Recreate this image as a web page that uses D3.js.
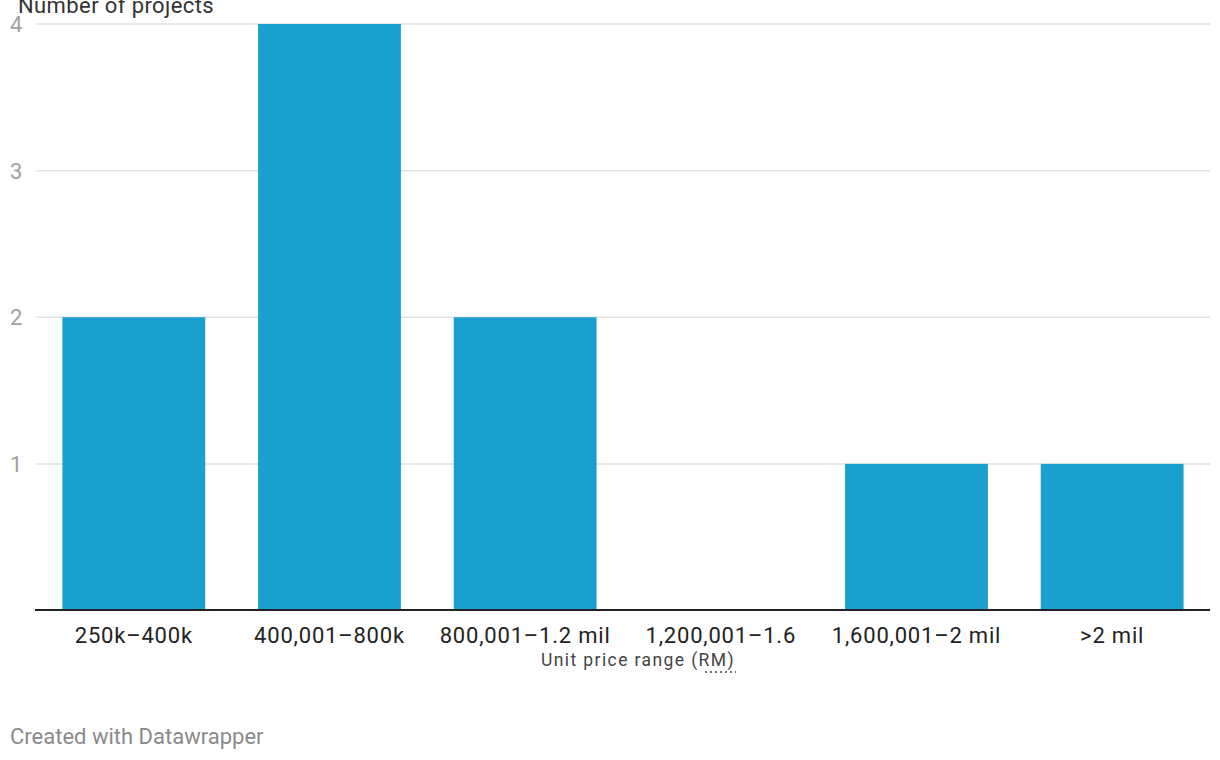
<!DOCTYPE html>
<html><head><meta charset="utf-8">
<script src="https://cdn.jsdelivr.net/npm/d3@7"></script>
<style>
body{margin:0;background:#fff;font-family:Roboto,"Noto Sans",sans-serif;}
</style></head>
<body><svg id="c" width="1220" height="760"></svg>
<script>
const categories = ["250k–400k","400,001–800k","800,001–1.2 mil","1,200,001–1.6","1,600,001–2 mil",">2 mil"];
const values = [2,4,2,0,1,1];
const yTicks = [1,2,3,4];

const svg = d3.select("#c");
const x = d3.scaleBand().domain(categories).range([36,1210]).paddingInner(0.27).paddingOuter(0.135);
const y = d3.scaleLinear().domain([0,4]).range([610.5,24]);

svg.append("g").selectAll("line").data(yTicks).join("line")
  .attr("x1",36).attr("x2",1210)
  .attr("y1",d=>y(d)).attr("y2",d=>y(d))
  .attr("stroke","#e2e2e2").attr("stroke-width",1.5);
svg.append("g").selectAll("text").data(yTicks).join("text")
  .attr("x",10).attr("y",d=>y(d)).attr("dy","0.36em")
  .attr("font-size",22).attr("fill","#a0a0a0").text(d=>d);

svg.append("text").attr("x",18).attr("y",13).attr("font-size",22).attr("letter-spacing",0.4)
  .attr("fill","#333").text("Number of projects");

svg.append("g").selectAll("rect").data(values).join("rect")
  .attr("x",(d,i)=>x(categories[i])).attr("width",x.bandwidth())
  .attr("y",d=>y(d)).attr("height",d=>y(0)-y(d))
  .attr("fill","#1aa0ce");

svg.append("line").attr("x1",35).attr("x2",1210).attr("y1",610).attr("y2",610)
  .attr("stroke","#222").attr("stroke-width",2);

svg.append("g").selectAll("text").data(categories).join("text")
  .attr("x",d=>x(d)+x.bandwidth()/2).attr("y",643)
  .attr("text-anchor","middle").attr("font-size",22).attr("letter-spacing",0.8)
  .attr("fill","#222").text(d=>d);

const t = svg.append("text").attr("x",638).attr("y",666).attr("text-anchor","middle")
  .attr("font-size",17.5).attr("letter-spacing",1.4).attr("fill","#444");
t.append("tspan").text("Unit price range (");
t.append("tspan").text("RM");
t.append("tspan").text(")");

svg.append("line").attr("x1",705).attr("x2",736).attr("y1",672).attr("y2",672)
  .attr("stroke","#444").attr("stroke-width",1.5).attr("stroke-dasharray","2,3");

svg.append("text").attr("x",10).attr("y",744).attr("font-size",22).attr("fill","#8a8a8a").text("Created with Datawrapper");
</script></body></html>
